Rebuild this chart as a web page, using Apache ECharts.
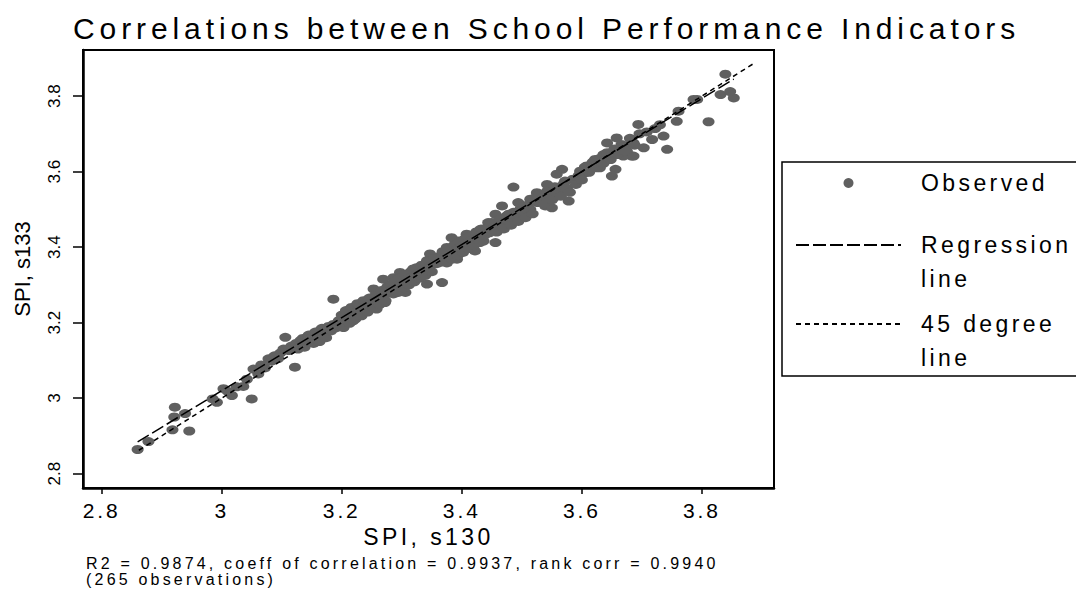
<!DOCTYPE html>
<html>
<head>
<meta charset="utf-8">
<title>School Performance Indicators</title>
<script src="https://cdn.jsdelivr.net/npm/echarts@6/dist/echarts.min.js"></script>
<style>
  html, body { margin: 0; padding: 0; background: #fff; }
  #main { width: 1076px; height: 590px; }
</style>
</head>
<body>
<div id="main"></div>
<script>
// SPI s130 (x) against SPI s133 (y)
var observed = [
  [2.860, 2.864], [2.878, 2.885], [2.918, 2.916], [2.946, 2.913], [2.922, 2.976], [2.921, 2.950],
  [2.939, 2.959], [2.992, 2.989], [3.003, 3.025], [3.017, 3.007], [3.036, 3.031], [3.050, 2.998],
  [3.053, 3.077], [3.061, 3.064], [3.078, 3.104], [3.106, 3.161], [3.103, 3.130], [3.122, 3.082],
  [3.131, 3.152], [3.147, 3.152], [3.164, 3.179], [3.186, 3.262], [3.203, 3.187], [3.219, 3.205],
  [3.253, 3.289], [3.258, 3.236], [3.269, 3.315], [3.286, 3.319], [3.297, 3.333], [3.319, 3.342],
  [3.342, 3.302], [3.347, 3.382],
  [3.272, 3.253], [3.286, 3.276], [3.306, 3.280], [3.342, 3.364], [3.369, 3.368], [3.375, 3.399],
  [3.392, 3.368], [3.403, 3.408], [3.422, 3.390], [3.436, 3.416], [3.456, 3.412], [3.367, 3.306],
  [3.839, 3.858], [3.831, 3.804], [3.853, 3.795], [3.811, 3.732], [3.792, 3.791], [3.761, 3.760],
  [3.758, 3.733], [3.742, 3.659], [3.736, 3.694], [3.717, 3.685], [3.703, 3.663], [3.694, 3.725],
  [3.683, 3.641], [3.675, 3.654], [3.658, 3.689], [3.642, 3.676], [3.656, 3.606], [3.650, 3.588],
  [3.636, 3.645], [3.622, 3.632], [3.630, 3.610], [3.608, 3.615], [3.606, 3.597], [3.597, 3.601],
  [3.592, 3.579], [3.567, 3.606], [3.558, 3.593], [3.572, 3.575], [3.564, 3.553], [3.578, 3.522],
  [3.553, 3.531], [3.547, 3.553], [3.542, 3.566], [3.539, 3.509], [3.550, 3.504], [3.525, 3.544],
  [3.514, 3.527], [3.486, 3.559], [3.500, 3.487], [3.494, 3.518], [3.467, 3.509], [3.478, 3.487],
  [3.456, 3.487], [3.461, 3.465], [3.444, 3.465], [3.431, 3.447], [3.408, 3.434], [3.394, 3.416],
  [3.383, 3.425], [3.389, 3.390], [3.369, 3.381],
  [3.847, 3.812], [3.786, 3.791], [3.686, 3.676], [3.672, 3.667], [3.669, 3.641], [3.686, 3.641],
  // dense part of the band
  [2.985, 2.998], [3.010, 3.018], [3.025, 3.030], [3.042, 3.050],
  [3.066, 3.088], [3.072, 3.080], [3.083, 3.098], [3.088, 3.112], [3.094, 3.105], [3.098, 3.120],
  [3.112, 3.126], [3.116, 3.138],
  [3.124, 3.145], [3.127, 3.130], [3.131, 3.141], [3.135, 3.158], [3.138, 3.135], [3.142, 3.150],
  [3.145, 3.167], [3.150, 3.160], [3.153, 3.145], [3.156, 3.175], [3.160, 3.165], [3.163, 3.150],
  [3.167, 3.185], [3.170, 3.172], [3.174, 3.160], [3.178, 3.190], [3.182, 3.178], [3.186, 3.195],
  [3.190, 3.186], [3.195, 3.205],
  [3.200, 3.220], [3.203, 3.205], [3.207, 3.232], [3.210, 3.215], [3.213, 3.198], [3.216, 3.240],
  [3.220, 3.225], [3.223, 3.210], [3.226, 3.250], [3.230, 3.232], [3.233, 3.218], [3.236, 3.258],
  [3.240, 3.245], [3.243, 3.228], [3.246, 3.265], [3.250, 3.252], [3.253, 3.240], [3.256, 3.272],
  [3.260, 3.262], [3.263, 3.248], [3.266, 3.285], [3.270, 3.270], [3.273, 3.258], [3.276, 3.295],
  [3.279, 3.280],
  [3.282, 3.300], [3.285, 3.288], [3.288, 3.310], [3.291, 3.296], [3.294, 3.280], [3.297, 3.318],
  [3.300, 3.305], [3.303, 3.292], [3.306, 3.328], [3.309, 3.315], [3.312, 3.300], [3.315, 3.335],
  [3.318, 3.322], [3.321, 3.308], [3.324, 3.345], [3.327, 3.330], [3.330, 3.318], [3.333, 3.352],
  [3.336, 3.340], [3.339, 3.325], [3.342, 3.360], [3.346, 3.348], [3.350, 3.335], [3.354, 3.370],
  [3.358, 3.356],
  [3.362, 3.375], [3.365, 3.360], [3.368, 3.388], [3.372, 3.372], [3.375, 3.358], [3.378, 3.395],
  [3.381, 3.382], [3.384, 3.368], [3.387, 3.405], [3.390, 3.392], [3.393, 3.378], [3.396, 3.414],
  [3.399, 3.400], [3.402, 3.386], [3.405, 3.422], [3.408, 3.410], [3.411, 3.396], [3.414, 3.430],
  [3.417, 3.418], [3.420, 3.404], [3.424, 3.440], [3.427, 3.425], [3.430, 3.412], [3.434, 3.448],
  [3.438, 3.432],
  [3.442, 3.450], [3.446, 3.438], [3.450, 3.465], [3.454, 3.452], [3.458, 3.440], [3.462, 3.472],
  [3.466, 3.460], [3.470, 3.448], [3.474, 3.482], [3.478, 3.470], [3.482, 3.458], [3.486, 3.492],
  [3.490, 3.480], [3.494, 3.468], [3.498, 3.502], [3.502, 3.490], [3.506, 3.478], [3.510, 3.512],
  [3.514, 3.500], [3.518, 3.488],
  [3.522, 3.530], [3.526, 3.518], [3.530, 3.540], [3.534, 3.528], [3.538, 3.515], [3.542, 3.548],
  [3.546, 3.536], [3.550, 3.525], [3.555, 3.560], [3.560, 3.545], [3.565, 3.535], [3.570, 3.568],
  [3.575, 3.555], [3.580, 3.545], [3.585, 3.580], [3.590, 3.566], [3.595, 3.590], [3.600, 3.578],
  [3.605, 3.612], [3.612, 3.598], [3.618, 3.625], [3.624, 3.610], [3.630, 3.635], [3.636, 3.622],
  [3.642, 3.650], [3.648, 3.632], [3.654, 3.660], [3.660, 3.645], [3.666, 3.672], [3.672, 3.655],
  [3.680, 3.688], [3.688, 3.670], [3.696, 3.700],
  [3.708, 3.705], [3.722, 3.714], [3.730, 3.724]
];
var regressionLine = [[2.860, 2.884], [3.853, 3.845]];
var degreeLine = [[2.862, 2.862], [3.887, 3.887]];
var xTicks = [2.8, 3, 3.2, 3.4, 3.6, 3.8];
var yTicks = [2.8, 3, 3.2, 3.4, 3.6, 3.8];
var titleText = 'Correlations between School Performance Indicators';
var noteText = 'R2 = 0.9874, coeff of correlation = 0.9937, rank corr = 0.9940\n(265 observations)';

// the original fonts are drawn wide, so horizontal texts get some letter spacing (em per font size)
var spacingBySize = { 30: 0.163, 23: 0.15, 21: 0.14, 16: 0.2 };

var chart = echarts.init(document.getElementById('main'), null, { renderer: 'svg' });

var option = {
  animation: false,
  backgroundColor: '#fff',
  title: [{
    text: titleText,
    left: 73,
    top: 13,
    padding: 0,
    textStyle: { fontFamily: 'Arial', fontSize: 30, fontWeight: 'normal', color: '#000' }
  }, {
    text: noteText,
    left: 86,
    top: 555,
    padding: 0,
    textStyle: { fontFamily: 'Arial', fontSize: 16, lineHeight: 16, fontWeight: 'normal', color: '#000' }
  }],
  grid: {
    left: 83, right: 302, top: 50, bottom: 102,
    show: true, borderColor: '#000', borderWidth: 2
  },
  legend: {
    orient: 'vertical',
    left: 795,
    top: 149,
    padding: 0,
    itemGap: -23,
    itemWidth: 105,
    itemHeight: 10,
    selectedMode: false,
    textStyle: { fontFamily: 'Arial', fontSize: 23, lineHeight: 34, color: '#000' },
    // first text line sits level with the icon, the second below it
    formatter: function (name) {
      return name === 'Observed' ? name : '\n' + name.replace(' line', '\nline');
    },
    data: [
      { name: 'Observed', textStyle: { padding: [17, 0, 17, 15] } },
      { name: 'Regression line', itemStyle: { opacity: 0 }, textStyle: { padding: [0, 0, 0, 15] } },
      { name: '45 degree line', itemStyle: { opacity: 0 }, textStyle: { padding: [0, 0, 0, 15] } }
    ]
  },
  graphic: [{
    type: 'rect',
    x: 782, y: 162,
    shape: { x: 0, y: 0, width: 320, height: 214 },
    style: { fill: 'none', stroke: '#000', lineWidth: 1.5 },
    silent: true
  }],
  xAxis: {
    type: 'value',
    min: 2.769,
    max: 3.92,
    name: 'SPI, s130',
    nameLocation: 'middle',
    nameGap: 34,
    nameTextStyle: { fontFamily: 'Arial', fontSize: 23, color: '#000' },
    splitLine: { show: false },
    axisLine: { lineStyle: { color: '#000', width: 2.5 } },
    axisTick: { customValues: xTicks, length: 6, lineStyle: { color: '#000', width: 1.5 } },
    axisLabel: { customValues: xTicks, margin: 12, fontFamily: 'Arial', fontSize: 21, color: '#000' }
  },
  yAxis: {
    type: 'value',
    min: 2.762,
    max: 3.922,
    name: 'SPI, s133',
    nameLocation: 'middle',
    nameGap: 50,
    nameTextStyle: { fontFamily: 'Liberation Sans', fontSize: 22, color: '#000' },
    splitLine: { show: false },
    axisLine: { lineStyle: { color: '#000', width: 2.5 } },
    axisTick: { customValues: yTicks, length: 10, lineStyle: { color: '#000', width: 1.5 } },
    axisLabel: { customValues: yTicks, rotate: 90, margin: 20, fontFamily: 'Liberation Sans', fontSize: 17, color: '#000' }
  },
  series: [{
    name: 'Observed',
    type: 'scatter',
    symbol: 'circle',
    symbolSize: [12, 9],
    itemStyle: { color: '#606060', opacity: 1 },
    data: observed
  }, {
    name: 'Regression line',
    type: 'line',
    symbol: 'none',
    itemStyle: { color: '#000' },
    lineStyle: { color: '#000', width: 1.5, type: [13, 4] },
    data: regressionLine
  }, {
    name: '45 degree line',
    type: 'line',
    symbol: 'none',
    itemStyle: { color: '#000' },
    lineStyle: { color: '#000', width: 1.5, type: [5, 4] },
    data: degreeLine
  }]
};
chart.setOption(option);

function spaceLetters() {
  var texts = document.querySelectorAll('#main text');
  for (var i = 0; i < texts.length; i++) {
    var cs = window.getComputedStyle(texts[i]);
    if (cs.fontFamily.indexOf('Arial') < 0) continue;
    var size = parseFloat(cs.fontSize);
    var em = spacingBySize[Math.round(size)];
    if (em) texts[i].setAttribute('letter-spacing', (em * size).toFixed(1));
  }
}
chart.on('finished', spaceLetters);
spaceLetters();
</script>
</body>
</html>
